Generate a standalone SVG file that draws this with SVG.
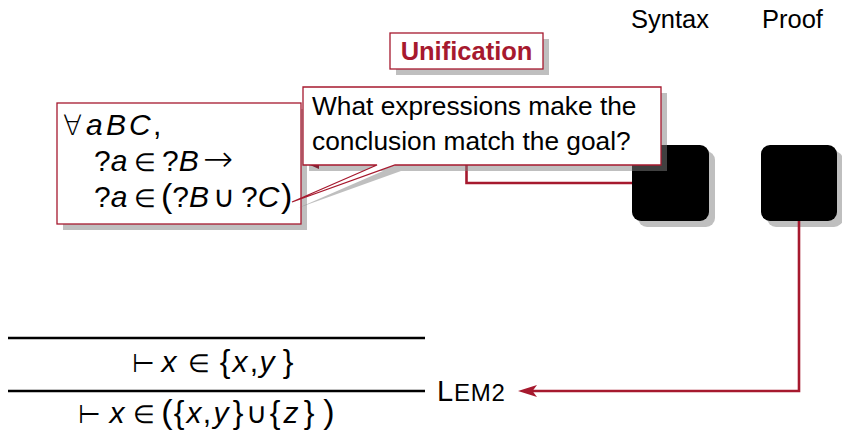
<svg xmlns="http://www.w3.org/2000/svg" width="842" height="432" viewBox="0 0 842 432">
<style>
text{font-family:"Liberation Sans",Arial,sans-serif;fill:#000}
.lbl{font-size:25.5px}
.ct{font-size:26.3px}
.m{font-size:30px}
.i{font-style:italic}
.s{font-family:"DejaVu Sans",sans-serif;font-weight:200;font-size:28px}
.e{font-size:25px}
.br{font-size:32px}
.pa{font-size:34px}
.shadow{fill:#808080;fill-opacity:0.5}
.box{fill:#fff;stroke:#a6192e;stroke-width:1.3}
.blk{fill:#000}
.conn{fill:none;stroke:#a6192e;stroke-width:2.6}
.arrow{fill:#a6192e}
.rule{stroke:#000;stroke-width:2.6}
</style>

<g id="label-syntax"><text class="lbl" x="631" y="28">Syntax</text></g>
<g id="label-proof"><text class="lbl" x="762" y="28">Proof</text></g>

<g id="node-syntax">
<rect class="shadow" x="638" y="151" width="77" height="76" rx="9"/>
<rect class="blk" x="632" y="145" width="77" height="76" rx="9"/>
</g>
<g id="node-proof">
<rect class="shadow" x="767" y="151" width="76" height="76" rx="9"/>
<rect class="blk" x="761" y="145" width="76" height="76" rx="9"/>
</g>

<g id="connectors">
<polyline class="conn" points="466.5,120 466.5,183 632,183"/>
<polyline class="conn" points="799,221 799,391 532,391"/>
<polygon class="arrow" points="518,391 537,385 532.5,391 537,397"/>
</g>

<g id="node-lemma">
<rect class="shadow" x="63" y="109" width="244" height="121"/>
<rect class="box" x="57" y="103" width="244" height="121"/>
<text class="m" y="135"><tspan class="s" x="63">∀</tspan><tspan class="i" x="86">a</tspan><tspan class="i" x="106">B</tspan><tspan class="i" x="129">C</tspan><tspan x="153">,</tspan></text>
<text class="m" y="171"><tspan x="94">?<tspan class="i">a</tspan></tspan><tspan class="s e" x="134">∈</tspan><tspan x="162">?<tspan class="i">B</tspan></tspan><tspan class="s" x="203" style="font-size:36px">→</tspan></text>
<text class="m" y="207"><tspan x="94">?<tspan class="i">a</tspan></tspan><tspan class="s e" x="134">∈</tspan><tspan x="161"><tspan class="pa">(</tspan>?<tspan class="i">B</tspan></tspan><tspan class="s" x="213" style="font-size:30px">∪</tspan><tspan x="241">?<tspan class="i">C</tspan></tspan><tspan x="281" class="pa">)</tspan></text>
</g>

<g id="node-unification">
<rect class="shadow" x="396" y="39" width="153" height="36"/>
<rect class="box" x="390" y="33" width="153" height="36"/>
<text x="466.5" y="60" text-anchor="middle" style="font-size:25.5px;font-weight:bold;fill:#a6192e">Unification</text>
</g>

<g id="node-callout">
<path class="shadow" d="M309,93 H667 V171 H401 L298,208 L383,171 H309 Z"/>
<polygon points="310,165 319,165 319,169" fill="#7a2434"/>
<path class="box" d="M303,87 H661 V165 H395 L292,202 L377,165 H303 Z"/>
<text class="ct" x="312" y="115">What expressions make the</text>
<text class="ct" x="312" y="150">conclusion match the goal?</text>
</g>

<g id="node-rule">
<line class="rule" x1="8" y1="338" x2="425" y2="338"/>
<line class="rule" x1="8" y1="391" x2="425" y2="391"/>
<text class="m" y="372" text-anchor="middle"><tspan class="s" x="143" style="font-size:26px">⊢</tspan><tspan class="i" x="169">x</tspan><tspan class="s e" x="199">∈</tspan><tspan class="br" x="225">{</tspan><tspan class="i" x="240">x</tspan><tspan x="254">,</tspan><tspan class="i" x="267">y</tspan><tspan class="br" x="288">}</tspan></text>
<text class="m" y="423" text-anchor="middle"><tspan class="s" x="89" style="font-size:26px">⊢</tspan><tspan class="i" x="117">x</tspan><tspan class="s e" x="144">∈</tspan><tspan class="pa" x="167">(</tspan><tspan class="br" x="179">{</tspan><tspan class="i" x="194">x</tspan><tspan x="207">,</tspan><tspan class="i" x="221">y</tspan><tspan class="br" x="238">}</tspan><tspan class="s" x="256" style="font-size:29px">∪</tspan><tspan class="br" x="275">{</tspan><tspan class="i" x="291">z</tspan><tspan class="br" x="309">}</tspan><tspan class="pa" x="329">)</tspan></text>
<text x="437" y="401" style="font-size:29px;letter-spacing:0.8px">L<tspan style="font-size:24px">EM2</tspan></text>
</g>
</svg>
